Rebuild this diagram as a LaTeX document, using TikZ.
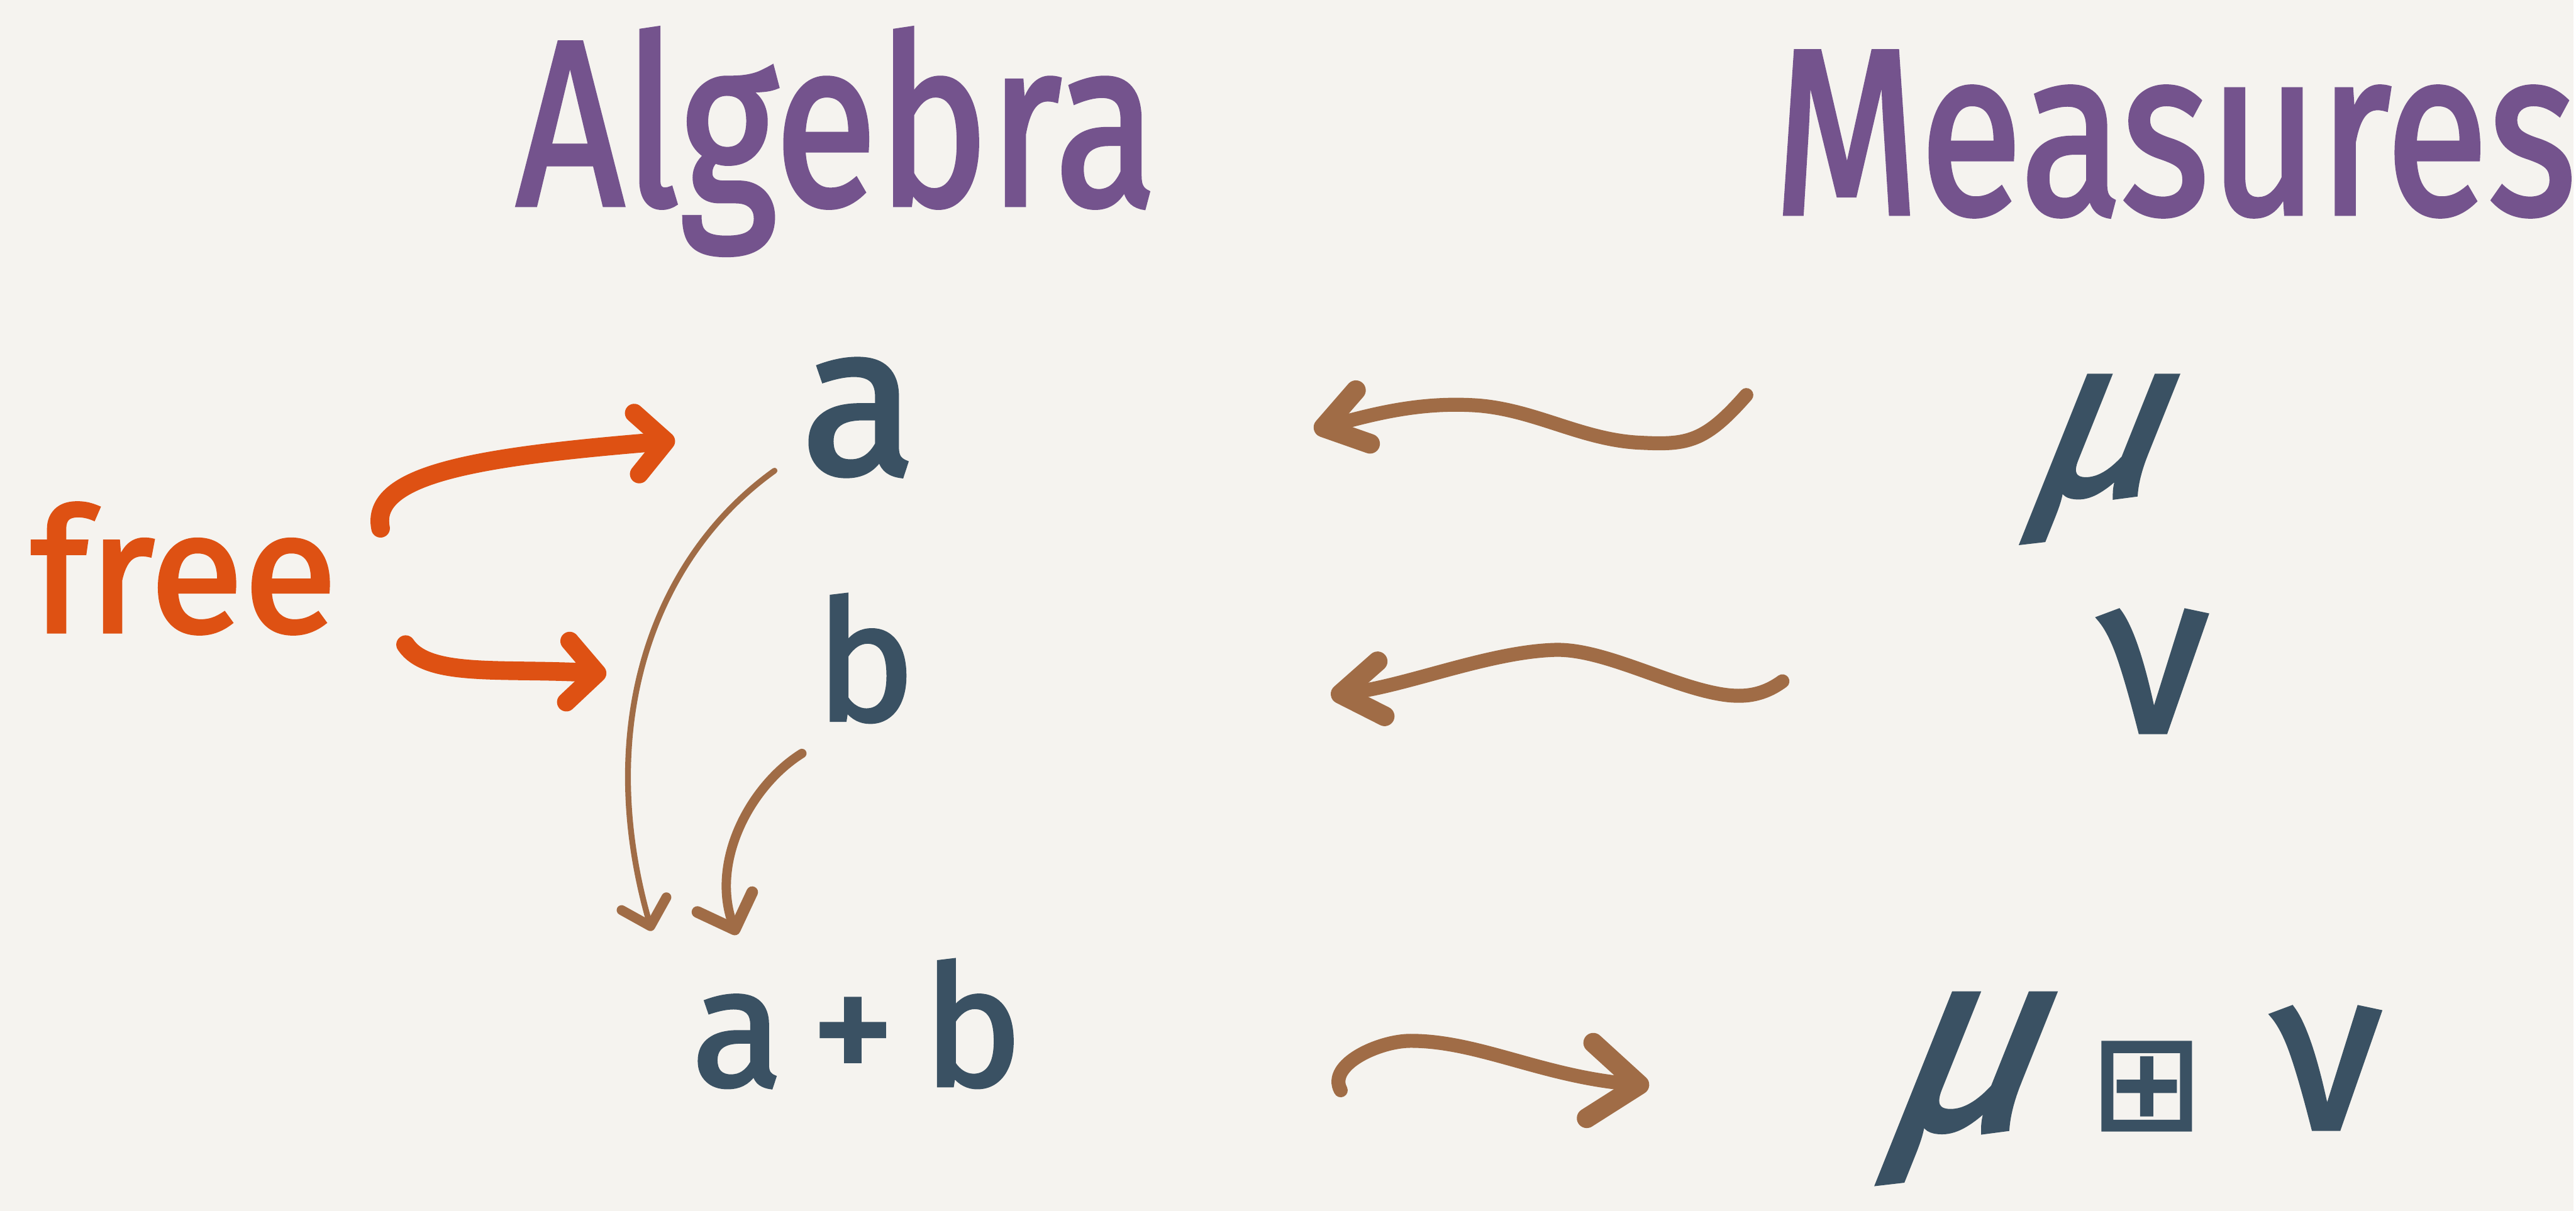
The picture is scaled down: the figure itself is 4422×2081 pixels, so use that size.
\documentclass[tikz,border=0pt]{standalone}
\usepackage{graphicx}
\usepackage{fontspec}
\setmainfont{Fira Sans}
\newfontfamily\hand{Fira Sans}[FakeBold=2]
\newfontfamily\handsl{Fira Sans}[FakeBold=2,FakeSlant=0.4]
\newfontfamily\symfnt{DejaVu Sans}[FakeBold=1.5]
\usetikzlibrary{arrows.meta}
\definecolor{bgc}{HTML}{F5F3EF}
\definecolor{purp}{HTML}{74538D}
\definecolor{slate}{HTML}{3A5163}
\definecolor{orng}{HTML}{DE5113}
\definecolor{brwn}{HTML}{A06C46}
\begin{document}
\begin{tikzpicture}[x=0.01cm,y=-0.01cm,
  every node/.style={inner sep=0pt, anchor=base},
  title/.style={text=purp, font=\hand\fontsize{92}{100}\selectfont},
  sym/.style={text=slate, font=\hand\fontsize{82}{90}\selectfont},
  grk/.style={text=slate, font=\hand\fontsize{110}{120}\selectfont},
  freelbl/.style={text=orng, font=\hand\fontsize{84}{90}\selectfont},
  orarrow/.style={draw=orng, line width=0.32cm, line cap=round,
    -{Straight Barb[length=0.5cm,width=1.05cm,line width=0.32cm,round]}},
  thinarrow/.style={draw=brwn, line width=0.1cm, line cap=round,
    -{Straight Barb[length=0.4cm,width=0.8cm,line width=0.17cm,round]}},
  midarrow/.style={draw=brwn, line width=0.16cm, line cap=round,
    -{Straight Barb[length=0.5cm,width=1.0cm,line width=0.2cm,round]}},
  squig/.style={draw=brwn, line width=0.24cm, line cap=round,
    -{Straight Barb[length=0.7cm,width=0.95cm,line width=0.34cm,round]}},
  bigsquig/.style={squig,
    -{Straight Barb[length=0.85cm,width=1.3cm,line width=0.34cm,round]}}
]
\fill[bgc] (0,0) rectangle (4422,2081);

% titles
\node[title] (alg) at (1438,352) {\scalebox{1}[1.25]{Algebra}};
\node[title] (meas) at (3737,367) {\scalebox{1}[1.25]{Measures}};
\node[freelbl] (free) at (316,1086) {free};

% algebra side
\node[sym, font=\hand\fontsize{104}{110}\selectfont] (a) at (1476,814) {a};
\node[sym] (b) at (1487,1238) {b};
\node[sym] (ab) at (1473,1866) {a\,+\,b};

% measures side
\node[grk] (mu) at (3585,850) {{\handsl μ}};
\node[grk] (nu) at (3702,1258) {ν};
\node[grk] (mbn) at (3658,1940) {{\handsl\fontsize{125}{130}\selectfont μ}\hspace{1.1cm}{\symfnt\fontsize{66}{70}\selectfont ⊞}\hspace{1.2cm}ν};

% connector end points
\coordinate (o1s) at (654,908);  \coordinate (o1e) at (1160,757);
\coordinate (o2s) at (697,1108); \coordinate (o2e) at (1042,1158);
\coordinate (bas) at (1331,809); \coordinate (bae) at (1120,1600);
\coordinate (bbs) at (1378,1295); \coordinate (bbe) at (1266,1607);
\coordinate (s1s) at (3001,679); \coordinate (s1e) at (2258,739);
\coordinate (s2s) at (3063,1171); \coordinate (s2e) at (2287,1195);
\coordinate (s3s) at (2304,1874); \coordinate (s3e) at (2834,1866);

% free arrows
\draw[orarrow] (o1s) .. controls (635,815) and (820,785) .. (o1e);
\draw[orarrow] (o2s) .. controls (735,1165) and (860,1148) .. (o2e);

% algebra arrows
\draw[thinarrow] (bas) .. controls (1120,960) and (1020,1250) .. (bae);
\draw[midarrow] (bbs) .. controls (1290,1350) and (1220,1480) .. (bbe);

% squiggles
\draw[squig] (s1s) .. controls (2930,760) and (2900,765) .. (2820,761)
  .. controls (2720,757) and (2640,705) .. (2540,697)
  .. controls (2440,690) and (2360,712) .. (s1e);
\draw[squig] (s2s) .. controls (3030,1195) and (3000,1198) .. (2970,1195)
  .. controls (2880,1185) and (2760,1115) .. (2673,1117)
  .. controls (2560,1120) and (2420,1178) .. (s2e);
\draw[bigsquig] (s3s) .. controls (2280,1830) and (2370,1789) .. (2424,1789)
  .. controls (2540,1789) and (2650,1850) .. (s3e);
\end{tikzpicture}
\end{document}
